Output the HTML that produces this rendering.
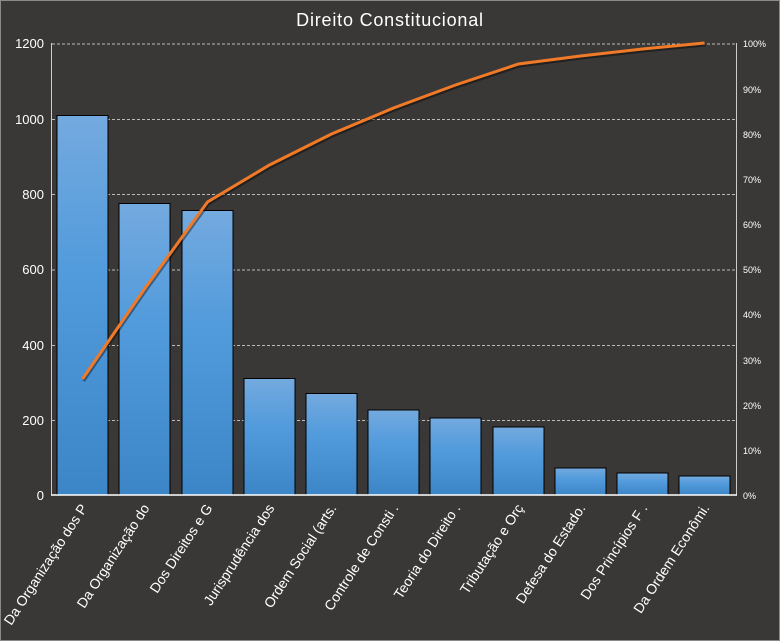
<!DOCTYPE html>
<html><head><meta charset="utf-8"><style>html,body{margin:0;background:#3a3836;overflow:hidden}svg{display:block}</style></head><body>
<svg width="780" height="641" xmlns="http://www.w3.org/2000/svg" font-family="Liberation Sans, DejaVu Sans, sans-serif">
<defs><linearGradient id="g" x1="0" y1="0" x2="0" y2="1"><stop offset="0" stop-color="#74aadf"/><stop offset="0.4" stop-color="#529bdc"/><stop offset="1" stop-color="#3c85c6"/></linearGradient></defs>
<rect width="780" height="641" fill="#3a3836"/>
<rect x="0.5" y="0.5" width="779" height="640" fill="none" stroke="#8a8a8a" stroke-width="1"/>
<text x="390" y="26" fill="#fff" font-size="18" text-anchor="middle" letter-spacing="0.8">Direito Constitucional</text>
<g stroke="#bbb" stroke-dasharray="3,2" stroke-width="1">
<line x1="52" x2="736" y1="44" y2="44"/><line x1="52" x2="736" y1="119.5" y2="119.5"/><line x1="52" x2="736" y1="194.5" y2="194.5"/><line x1="52" x2="736" y1="270" y2="270"/><line x1="52" x2="736" y1="345.5" y2="345.5"/><line x1="52" x2="736" y1="420.5" y2="420.5"/>
</g>
<line x1="51.5" y1="43" x2="51.5" y2="495" stroke="#ccc"/>
<line x1="736.5" y1="43" x2="736.5" y2="495" stroke="#ccc"/>
<g fill="url(#g)" stroke="#000" stroke-width="1">
<rect x="57" y="115.5" width="51" height="379.5"/>
<rect x="119" y="203.5" width="51" height="291.5"/>
<rect x="182" y="210.5" width="51" height="284.5"/>
<rect x="244" y="378.5" width="51" height="116.5"/>
<rect x="306" y="393.5" width="51" height="101.5"/>
<rect x="368" y="410" width="51" height="85"/>
<rect x="430" y="418" width="51" height="77"/>
<rect x="493" y="427" width="51" height="68"/>
<rect x="555" y="468" width="51" height="27"/>
<rect x="617" y="473" width="51" height="22"/>
<rect x="679" y="476" width="51" height="19"/>
</g>
<line x1="51" y1="495" x2="737" y2="495" stroke="#fff" stroke-width="1.5"/>
<polyline fill="none" stroke="#000" stroke-opacity="0.4" stroke-width="3" transform="translate(1,2)" points="82.5,379 144.5,289 207.5,202 269.5,165 331.5,134 393.5,108 455.5,85 518.5,64 580.5,56 642.5,49 704.5,43"/>
<polyline fill="none" stroke="#f07a28" stroke-width="3" points="82.5,379 144.5,289 207.5,202 269.5,165 331.5,134 393.5,108 455.5,85 518.5,64 580.5,56 642.5,49 704.5,43"/>
<g fill="#fff" font-size="13" text-anchor="end">
<text x="44" y="48">1200</text><text x="44" y="124">1000</text><text x="44" y="199">800</text><text x="44" y="274">600</text><text x="44" y="350">400</text><text x="44" y="425">200</text><text x="44" y="500">0</text>
</g>
<g fill="#fff" font-size="9">
<text x="743" y="47">100%</text><text x="743" y="93">90%</text><text x="743" y="138">80%</text><text x="743" y="183">70%</text><text x="743" y="228">60%</text><text x="743" y="273">50%</text><text x="743" y="318">40%</text><text x="743" y="364">30%</text><text x="743" y="409">20%</text><text x="743" y="454">10%</text><text x="743" y="499">0%</text>
</g>
<g fill="#fff" font-size="14" text-anchor="end">
<text transform="translate(88,508) rotate(-57)">Da Organização dos P</text>
<text transform="translate(150,508) rotate(-57)">Da Organização do</text>
<text transform="translate(213,508) rotate(-57)">Dos Direitos e G</text>
<text transform="translate(275,508) rotate(-57)">Jurisprudência dos</text>
<text transform="translate(337,508) rotate(-57)">Ordem Social (arts.</text>
<text transform="translate(399,508) rotate(-57)">Controle de Consti .</text>
<text transform="translate(461,508) rotate(-57)">Teoria do Direito .</text>
<text transform="translate(524,508) rotate(-57)">Tributação e Orç</text>
<text transform="translate(586,508) rotate(-57)">Defesa do Estado.</text>
<text transform="translate(648,508) rotate(-57)">Dos Princípios F .</text>
<text transform="translate(710,508) rotate(-57)">Da Ordem Econômi.</text>
</g>
</svg>
</body></html>
